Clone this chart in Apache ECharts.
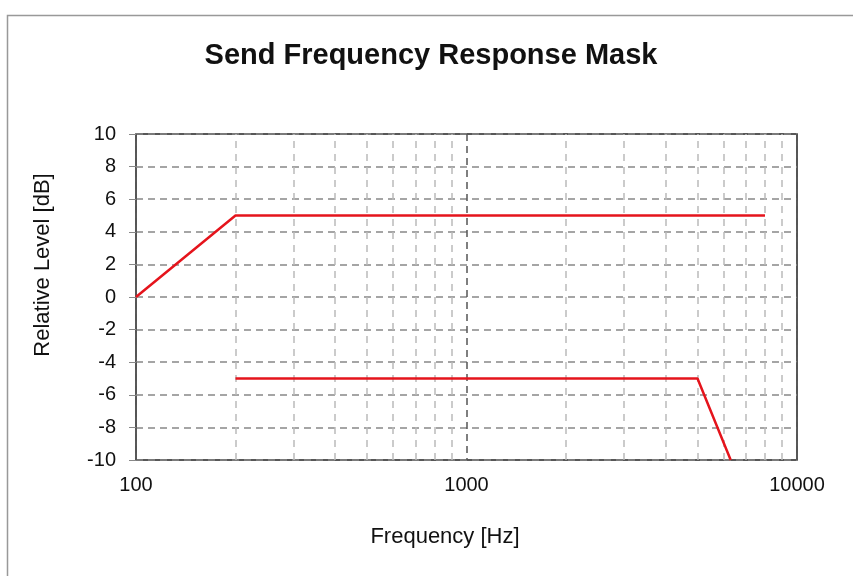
<!DOCTYPE html>
<html>
<head>
<meta charset="utf-8">
<script src="https://cdn.jsdelivr.net/npm/echarts@6/dist/echarts.min.js"></script>
<style>
  html, body { margin: 0; padding: 0; background: #fff; }
  #chart { width: 853px; height: 576px; }
</style>
</head>
<body>
<div id="chart"></div>
<script>
// mask limits (frequency in Hz, level in dB)
const upperFreq = [100, 200, 8000];
const upperLevel = [0, 5, 5];
const lowerFreq = [200, 5000, 6300];
const lowerLevel = [-5, -5, -10];
// minor grid lines of the log axis
const minorFreq = [200, 300, 400, 500, 600, 700, 800, 900,
  2000, 3000, 4000, 5000, 6000, 7000, 8000, 9000];

const chart = echarts.init(document.getElementById("chart"));

const red = "#e5141c";
const font = "Liberation Sans, Arial, sans-serif";

chart.setOption({
  animation: false,
  title: {
    text: "Send Frequency Response Mask",
    left: 426,
    textAlign: "center",
    top: 36,
    textStyle: { fontFamily: font, fontSize: 29, fontWeight: "bold", color: "#111" },
  },
  graphic: [
    {
      type: "rect",
      left: 5, top: 13,
      shape: { width: 900, height: 620 },
      style: { fill: "none", stroke: "#999", lineWidth: 1.5 },
      silent: true,
    },
    {
      type: "text",
      x: 43, y: 265,
      rotation: Math.PI / 2,
      style: {
        text: "Relative Level [dB]",
        font: "22px " + font,
        fill: "#111",
        textAlign: "center",
        textVerticalAlign: "middle",
      },
    },
    {
      type: "text",
      x: 445, y: 537,
      style: {
        text: "Frequency [Hz]",
        font: "22px " + font,
        fill: "#111",
        textAlign: "center",
        textVerticalAlign: "middle",
      },
    },
  ],
  grid: {
    left: 136, right: 56, top: 134, bottom: 116,
    show: true, borderColor: "#222", borderWidth: 1.5,
  },
  xAxis: {
    type: "log",
    logBase: 10,
    min: 100,
    max: 10000,
    axisLine: { show: false },
    axisTick: { show: false },
    axisLabel: { fontFamily: font, fontSize: 20, color: "#111", margin: 15, formatter: (v) => String(v) },
    splitLine: { show: true, lineStyle: { color: "#555", width: 1.5, type: [7, 5] } },
  },
  yAxis: {
    type: "value",
    min: -10,
    max: 10,
    interval: 2,
    axisLine: { show: false },
    axisTick: { show: true, length: 12, inside: false, lineStyle: { color: "#888", type: [7, 5] } },
    axisLabel: { fontFamily: font, fontSize: 20, color: "#111", margin: 20 },
    splitLine: { show: true, lineStyle: { color: "#888", width: 1.5, type: [7, 5] } },
  },
  series: [
    {
      type: "line",
      data: upperFreq.map((f, i) => [f, upperLevel[i]]),
      symbol: "none",
      lineStyle: { color: red, width: 2.5 },
      z: 5,
      markLine: {
        silent: true,
        symbol: "none",
        label: { show: false },
        lineStyle: { color: "#bbb", width: 1.5, type: [7, 6] },
        data: minorFreq.map((f) => ({ xAxis: f })),
        z: 1,
      },
    },
    {
      type: "line",
      data: lowerFreq.map((f, i) => [f, lowerLevel[i]]),
      symbol: "none",
      lineStyle: { color: red, width: 2.5 },
      z: 5,
    },
  ],
});
</script>
</body>
</html>
